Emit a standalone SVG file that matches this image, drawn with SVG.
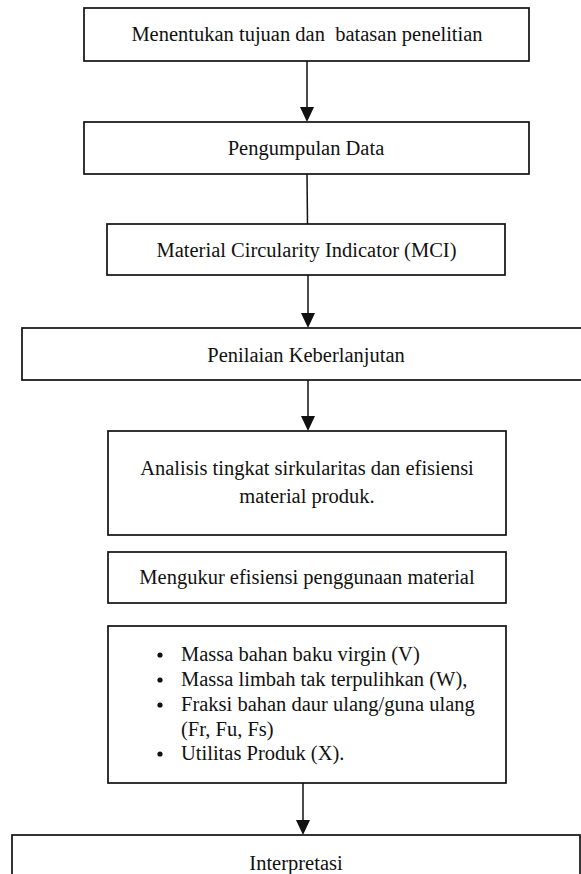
<svg xmlns="http://www.w3.org/2000/svg" width="581" height="874" viewBox="0 0 581 874">
<style>
.box{fill:#fff;stroke:#111;stroke-width:1.7}
.t{font-family:'Liberation Serif','DejaVu Serif',serif;font-size:20.5px;fill:#111}
.c{text-anchor:middle}
.ln{stroke:#111;stroke-width:1.5;fill:none}
</style>
<rect width="581" height="874" fill="#fff"/>
<g id="connectors">
<line class="ln" x1="307" y1="61" x2="307" y2="108"/>
<path d="M300,107 L314,107 L307,122 Z" fill="#111"/>
<line class="ln" x1="307" y1="174" x2="307.5" y2="224"/>
<line class="ln" x1="308" y1="275" x2="308" y2="314"/>
<path d="M301,313 L315,313 L308,328 Z" fill="#111"/>
<line class="ln" x1="308" y1="380" x2="308" y2="417"/>
<path d="M301,416 L315,416 L308,431 Z" fill="#111"/>
<line class="ln" x1="303" y1="783" x2="303" y2="821"/>
<path d="M296,820 L310,820 L303,835 Z" fill="#111"/>
</g>
<g id="n1">
<rect class="box" x="84" y="8" width="445" height="53"/>
<text class="t c" x="307" y="41" xml:space="preserve">Menentukan tujuan dan  batasan penelitian</text>
</g>
<g id="n2">
<rect class="box" x="84" y="122" width="445" height="52"/>
<text class="t c" x="306" y="155">Pengumpulan Data</text>
</g>
<g id="n3">
<rect class="box" x="107" y="224" width="398" height="51"/>
<text class="t c" x="306.5" y="257">Material Circularity Indicator (MCI)</text>
</g>
<g id="n4">
<rect class="box" x="22" y="328" width="570" height="52"/>
<text class="t c" x="306" y="362">Penilaian Keberlanjutan</text>
</g>
<g id="n5">
<rect class="box" x="108" y="431" width="398" height="104"/>
<text class="t c" x="307" y="475">Analisis tingkat sirkularitas dan efisiensi</text>
<text class="t c" x="307" y="503">material produk.</text>
</g>
<g id="n6">
<rect class="box" x="108" y="552" width="398" height="51"/>
<text class="t c" x="307" y="584">Mengukur efisiensi penggunaan material</text>
</g>
<g id="n7">
<rect class="box" x="108" y="626" width="398" height="157"/>
<circle cx="160" cy="655" r="2.6" fill="#111"/>
<circle cx="160" cy="680" r="2.6" fill="#111"/>
<circle cx="160" cy="705" r="2.6" fill="#111"/>
<circle cx="160" cy="754" r="2.6" fill="#111"/>
<text class="t" x="181" y="661">Massa bahan baku virgin (V)</text>
<text class="t" x="181" y="686">Massa limbah tak terpulihkan (W),</text>
<text class="t" x="181" y="711">Fraksi bahan daur ulang/guna ulang</text>
<text class="t" x="181" y="736">(Fr, Fu, Fs)</text>
<text class="t" x="181" y="760">Utilitas Produk (X).</text>
</g>
<g id="n8">
<rect class="box" x="12" y="835" width="568" height="60"/>
<text class="t c" x="296" y="870">Interpretasi</text>
</g>
</svg>
